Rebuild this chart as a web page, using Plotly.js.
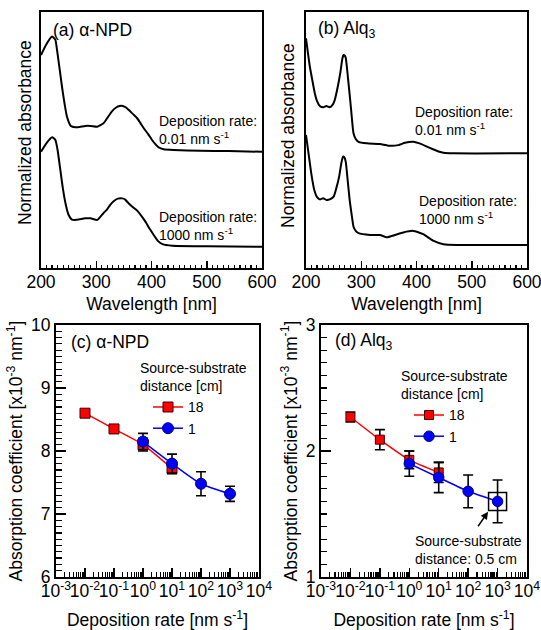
<!DOCTYPE html>
<html>
<head>
<meta charset="utf-8">
<script src="https://cdn.plot.ly/plotly-3.0.1.min.js"></script>
<style>html,body{margin:0;padding:0;background:#fff;}#chart{width:541px;height:630px;}</style>
</head>
<body>
<div id="chart"></div>
<script>
// ---- (a) alpha-NPD spectra (normalized absorbance, vertically offset) ----
const wlA_top = [200,210,220,226,229,234,238,243,247,254,262,270,280,290,302,313,320,328,336,342,348,354,359,366,374,380,386,394,401,407,413,422,440,488,540,600];
const absA_top = [0.832,0.875,0.904,0.891,0.852,0.773,0.708,0.637,0.591,0.555,0.550,0.551,0.555,0.555,0.552,0.565,0.586,0.611,0.627,0.633,0.633,0.627,0.617,0.602,0.585,0.566,0.546,0.523,0.500,0.484,0.471,0.464,0.461,0.458,0.457,0.454];
const wlA_bot = [200,210,220,226,230,235,240,245,250,256,265,280,290,302,313,320,325,332,339,347,352,358,366,374,382,389,397,404,412,420,438,500,600];
const absA_bot = [0.454,0.488,0.511,0.500,0.461,0.383,0.305,0.246,0.207,0.189,0.188,0.194,0.194,0.188,0.214,0.230,0.246,0.262,0.271,0.272,0.268,0.254,0.238,0.224,0.203,0.181,0.152,0.129,0.105,0.093,0.087,0.085,0.083];

// ---- (b) Alq3 spectra ----
const wlB_top = [200,207,212,216,220,225,231,237,243,248,252,257,262,266,268,270,272,276,280,283,286,290,295,310,334,349,367,379,394,409,420,430,440,449,467,600];
const absB_top = [0.897,0.786,0.727,0.682,0.652,0.633,0.628,0.633,0.628,0.637,0.656,0.703,0.761,0.820,0.832,0.830,0.820,0.742,0.656,0.586,0.526,0.504,0.493,0.487,0.484,0.478,0.480,0.489,0.493,0.484,0.473,0.464,0.455,0.450,0.448,0.448];
const wlB_bot = [200,205,210,215,220,225,231,237,243,250,255,260,264,267,269,272,275,279,283,286,290,295,316,334,346,361,376,394,412,430,449,473,600];
const absB_bot = [0.520,0.441,0.363,0.305,0.277,0.268,0.272,0.266,0.268,0.279,0.313,0.357,0.410,0.435,0.434,0.414,0.352,0.266,0.203,0.161,0.145,0.136,0.129,0.129,0.120,0.129,0.139,0.145,0.132,0.107,0.093,0.090,0.090];

// ---- (c), (d) absorption coefficient vs deposition rate ----
const rateRed = [0.01, 0.1, 1, 10];        // 18 cm
const rateBlue = [1, 10, 100, 1000];       // 1 cm
const npdRed = [8.60, 8.35, 8.10, 7.72];
const npdRedErr = [0.05, 0.06, 0.10, 0.08];
const npdBlue = [8.15, 7.80, 7.48, 7.32];
const npdBlueErr = [0.13, 0.15, 0.19, 0.12];
const alqRed = [2.27, 2.09, 1.93, 1.83];
const alqRedErr = [0.04, 0.08, 0.07, 0.08];
const alqBlue = [1.90, 1.79, 1.68, 1.60];
const alqBlueErr = [0.10, 0.12, 0.13, 0.17];
const rateHighlight = [1000];
const alqHighlight = [1.60];

const seriesNames = ['18', '1'];
const logTickVals = [1e-3, 1e-2, 1e-1, 1, 10, 100, 1000, 10000];
const logTickText = ['10<sup>-3</sup>','10<sup>-2</sup>','10<sup>-1</sup>','10<sup>0</sup>','10<sup>1</sup>','10<sup>2</sup>','10<sup>3</sup>','10<sup>4</sup>'];

// minor log ticks (2..9 per decade)
const logMinor = [];
for (let e = -3; e < 4; e++) for (let m = 2; m <= 9; m++) logMinor.push(m * Math.pow(10, e));

const W = 541, H = 630;
const FONT = 'Liberation Sans, Arial, Helvetica, sans-serif';
const FS = 17.5;

function spec(x, y, xa, ya) {
  return {x: x, y: y, xaxis: xa, yaxis: ya, type: 'scatter', mode: 'lines',
    line: {color: '#000', width: 2, shape: 'spline', smoothing: 0.5}, showlegend: false, hoverinfo: 'skip'};
}
function pts(x, y, err, xa, ya, color, symbol, size, lineColor, name, legend, showleg) {
  return {x: x, y: y, xaxis: xa, yaxis: ya, type: 'scatter', mode: 'lines+markers', name: name,
    legend: legend, showlegend: showleg,
    line: {color: color, width: 1.5, shape: 'spline', smoothing: 0.6},
    marker: {symbol: symbol, size: size, color: color, line: {color: lineColor, width: 1}},
    error_y: {type: 'data', array: err, visible: true, color: '#000', thickness: 1.6, width: 5}};
}

const data = [
  spec(wlA_top, absA_top, 'x', 'y'),
  spec(wlA_bot, absA_bot, 'x', 'y'),
  spec(wlB_top, absB_top, 'x2', 'y2'),
  spec(wlB_bot, absB_bot, 'x2', 'y2'),
  pts(rateRed, npdRed, npdRedErr, 'x3', 'y3', '#ff0000', 'square', 10, '#400000', seriesNames[0], 'legend', true),
  pts(rateBlue, npdBlue, npdBlueErr, 'x3', 'y3', '#0000ff', 'circle', 11, '#000080', seriesNames[1], 'legend', true),
  pts(rateRed, alqRed, alqRedErr, 'x4', 'y4', '#ff0000', 'square', 9, '#400000', seriesNames[0], 'legend2', true),
  pts(rateBlue, alqBlue, alqBlueErr, 'x4', 'y4', '#0000ff', 'circle', 10.5, '#000080', seriesNames[1], 'legend2', true),
  {x: rateHighlight, y: alqHighlight, xaxis: 'x4', yaxis: 'y4', type: 'scatter', mode: 'markers', showlegend: false,
   marker: {symbol: 'square-open', size: 18, color: '#000', line: {color: '#000', width: 1.5}}, hoverinfo: 'skip'}
];

const frame = {showline: true, linecolor: '#000', linewidth: 2, mirror: true, showgrid: false, zeroline: false,
  ticks: 'inside', tickcolor: '#000', tickwidth: 1.5, ticklabeloverflow: 'allow',
  tickfont: {size: FS, color: '#000', family: FONT}};

function dx(l, r) { return [l / W, r / W]; }
function dy(t, b) { return [1 - b / H, 1 - t / H]; }

const wlAxis = (dom, anchor) => Object.assign({}, frame, {
  domain: dom, anchor: anchor, range: [200, 600], tick0: 200, dtick: 100, ticklen: 7, tickangle: 0,
  ticklabelstandoff: -3,
  minor: {ticks: 'inside', dtick: 10, ticklen: 3.5, tickwidth: 1.2, tickcolor: '#000', showgrid: false},
  title: {text: 'Wavelength [nm]', font: {size: FS, family: FONT, color: '#000'}, standoff: 7}
});
const absAxis = (dom, anchor) => Object.assign({}, frame, {
  domain: dom, anchor: anchor, range: [0, 1], ticks: '', showticklabels: false
});
const rateAxis = (dom, anchor) => Object.assign({}, frame, {
  domain: dom, anchor: anchor, type: 'log', range: [-3, 4], tickmode: 'array', tickvals: logTickVals, ticktext: logTickText,
  ticklen: 9, tickangle: 0, ticklabelstandoff: -3,
  minor: {ticks: 'inside', tickmode: 'array', tickvals: logMinor, ticklen: 5, tickwidth: 1.2, tickcolor: '#000', showgrid: false},
  title: {text: 'Deposition rate [nm s<sup>-1</sup>]', font: {size: FS, family: FONT, color: '#000'}, standoff: 14}
});
const coefAxis = (dom, anchor, rng) => Object.assign({}, frame, {
  domain: dom, anchor: anchor, range: rng, dtick: 1, ticklen: 10,
  minor: {ticks: 'inside', dtick: 0.1, ticklen: 5.5, tickwidth: 1.2, tickcolor: '#000', showgrid: false},
  title: {text: 'Absorption coefficient [x10<sup>-3</sup> nm<sup>-1</sup>]', font: {size: FS, family: FONT, color: '#000'}, standoff: 4}
});

const lab = {font: {size: FS, family: FONT, color: '#000'}, showarrow: false, xanchor: 'left', yanchor: 'middle'};
const small = {font: {size: 14, family: FONT, color: '#000'}, showarrow: false, xanchor: 'left', yanchor: 'middle', align: 'left'};
const ytitle = {font: {size: FS, family: FONT, color: '#000'}, showarrow: false, textangle: -90,
  xref: 'paper', yref: 'paper', xanchor: 'center', yanchor: 'middle', text: 'Normalized absorbance'};

const legendCommon = {xanchor: 'left', yanchor: 'top', bgcolor: 'rgba(0,0,0,0)', borderwidth: 0,
  font: {size: 14, family: FONT, color: '#000'}, itemwidth: 30, tracegroupgap: 0, indentation: 10,
  title: {text: 'Source-substrate<br>distance [cm]', font: {size: 14, family: FONT, color: '#000'}}};

const layout = {
  width: W, height: H, margin: {l: 0, r: 0, t: 0, b: 0},
  paper_bgcolor: '#fff', plot_bgcolor: '#fff',
  font: {family: FONT, size: FS, color: '#000'},
  xaxis: wlAxis(dx(41, 262), 'y'),
  yaxis: absAxis(dy(12, 268), 'x'),
  xaxis2: wlAxis(dx(306, 527), 'y2'),
  yaxis2: absAxis(dy(12, 268), 'x2'),
  xaxis3: rateAxis(dx(56, 259), 'y3'),
  yaxis3: coefAxis(dy(325, 577), 'x3', [6, 10]),
  xaxis4: rateAxis(dx(321, 527), 'y4'),
  yaxis4: coefAxis(dy(325, 577), 'x4', [1, 3]),
  legend: Object.assign({}, legendCommon, {x: 138 / W, y: 1 - 355 / H}),
  legend2: Object.assign({}, legendCommon, {x: 399 / W, y: 1 - 363 / H}),
  annotations: [
    Object.assign({}, ytitle, {x: 25 / W, y: 1 - 133 / H}),
    Object.assign({}, ytitle, {x: 288 / W, y: 1 - 136 / H}),
    Object.assign({}, lab, {xref: 'x domain', yref: 'y domain', x: 0.045, y: 0.93, text: '(a) α-NPD'}),
    Object.assign({}, lab, {xref: 'x2 domain', yref: 'y2 domain', x: 0.044, y: 0.93, text: '(b) Alq<sub>3</sub>'}),
    Object.assign({}, lab, {xref: 'x3 domain', yref: 'y3 domain', x: 0.064, y: 0.934, text: '(c) α-NPD'}),
    Object.assign({}, lab, {xref: 'x4 domain', yref: 'y4 domain', x: 0.058, y: 0.934, text: '(d) Alq<sub>3</sub>'}),
    Object.assign({}, small, {xref: 'x', yref: 'y', x: 410, y: 0.541, text: 'Deposition rate:<br>0.01 nm s<sup>-1</sup>'}),
    Object.assign({}, small, {xref: 'x', yref: 'y', x: 410, y: 0.166, text: 'Deposition rate:<br>1000 nm s<sup>-1</sup>'}),
    Object.assign({}, small, {xref: 'x2', yref: 'y2', x: 393, y: 0.574, text: 'Deposition rate:<br>0.01 nm s<sup>-1</sup>'}),
    Object.assign({}, small, {xref: 'x2', yref: 'y2', x: 400, y: 0.227, text: 'Deposition rate:<br>1000 nm s<sup>-1</sup>'}),
    Object.assign({}, small, {xref: 'x4 domain', yref: 'y4 domain', x: 0.448, y: 0.108, text: 'Source-substrate<br>distance: 0.5 cm'}),
    {xref: 'x4 domain', yref: 'y4 domain', x: 0.811, y: 0.259, text: '', showarrow: true, axref: 'pixel', ayref: 'pixel',
     ax: -11, ay: 16, arrowhead: 2, arrowsize: 1, arrowwidth: 1.5, arrowcolor: '#000'}
  ]
};

Plotly.newPlot('chart', data, layout, {staticPlot: true, displayModeBar: false});
</script>
</body>
</html>
